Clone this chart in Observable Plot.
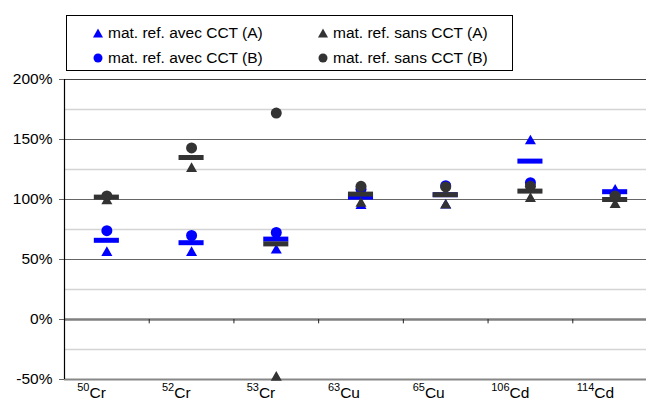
<!DOCTYPE html>
<html>
<head>
<meta charset="utf-8">
<script src="https://cdn.jsdelivr.net/npm/d3@7"></script>
<script src="https://cdn.jsdelivr.net/npm/@observablehq/plot@0.6"></script>
<style>
  html, body { margin: 0; padding: 0; background: #fff; overflow: hidden; }
  body { width: 646px; height: 401px; position: relative; font-family: "Liberation Sans", Arial, sans-serif; }
  #chart { position: absolute; left: 0; top: 0; width: 657px; }
  #chart svg { max-width: none !important; }
  #legend { position: absolute; left: 66px; top: 15px; width: 447px; height: 56px; border: 1px solid #000; background: #fff; box-sizing: border-box; }
  .item { position: absolute; font-size: 15.5px; color: #000; white-space: nowrap; line-height: 18px; }
  .item svg { position: absolute; left: -15px; top: 4px; }
</style>
</head>
<body>
<div id="chart"></div>
<div id="legend"></div>
<script>
// ---- data ----
const isotopes = ["50", "52", "53", "63", "65", "106", "114"];
const elements = ["Cr", "Cr", "Cr", "Cu", "Cu", "Cd", "Cd"];
const avecA = [57, 57, 59, 96, 96.5, 150, 109];      // mat. ref. avec CCT (A)
const sansA = [100, 127, -47, 98, 96.5, 102, 97];    // mat. ref. sans CCT (A)
const avecB = [74, 70, 72.5, 108.5, 111.5, 114, 104]; // mat. ref. avec CCT (B)
const sansB = [103, 143, 172, 111, 110.5, 111, 103];  // mat. ref. sans CCT (B)
const avecMean = [66, 64, 67, 102, 104, 132, 106.5];
const sansMean = [102, 135, 63, 104.5, 104, 107, 100];
const yTicks = [-50, 0, 50, 100, 150, 200];
const majorGrid = [50, 100, 150];
const minorGrid = [-25, 25, 75, 125, 175];
const legendItems = [
  {label: "mat. ref. avec CCT (A)", color: "#0000ff", shape: "triangle"},
  {label: "mat. ref. sans CCT (A)", color: "#333333", shape: "triangle"},
  {label: "mat. ref. avec CCT (B)", color: "#0000ff", shape: "circle"},
  {label: "mat. ref. sans CCT (B)", color: "#333333", shape: "circle"}
];

const BLUE = "#0000ff", DARK = "#333333";
const idx = isotopes.map((_, i) => i);
const labels = idx.map(i => isotopes[i] + elements[i]);
const tri = (arr) => idx.map(i => ({x: i + 0.5, y: arr[i]}));
const halfDash = 0.148;

const plot = Plot.plot({
  width: 657,
  height: 401,
  marginTop: 79,
  marginBottom: 22,
  marginLeft: 64,
  marginRight: 0,
  style: {fontFamily: "'Liberation Sans', Arial, sans-serif", fontSize: "15.5px", background: "transparent", overflow: "visible", maxWidth: "none"},
  x: {type: "linear", domain: [0, 7], axis: null},
  y: {domain: [-50, 200], axis: null},
  marks: [
    Plot.ruleY(minorGrid, {stroke: "#d4d4d4", strokeWidth: 1.5}),
    Plot.ruleY(majorGrid, {stroke: "#666666", strokeWidth: 1.2}),
    Plot.ruleY([200], {stroke: "#444444", strokeWidth: 1.2}),
    Plot.ruleY([-50], {stroke: "#888888", strokeWidth: 2}),
    Plot.ruleY([0], {stroke: "#808080", strokeWidth: 2.5}),
    Plot.ruleX([0], {y1: -50, y2: 200, stroke: "#000", strokeWidth: 1.2}),
    Plot.ruleX([1, 2, 3, 4, 5, 6], {y1: 0, y2: -3.6, stroke: "#222", strokeWidth: 1}),
    Plot.axisY({ticks: yTicks, tickFormat: d => d + "%", tickSize: 5, tickPadding: 7, stroke: "#666", fontSize: "15.5px", label: null}),
    Plot.text(idx, {x: i => i + 0.5, y: -50, text: i => labels[i], textAnchor: "end", lineAnchor: "bottom", dy: 18, dx: -1, fill: "#000"}),
    // blue series
    Plot.dot(tri(avecA), {x: "x", y: "y", symbol: "triangle", r: 4.1, fill: BLUE, stroke: "none", dy: 1.6}),
    Plot.dot(tri(avecB), {x: "x", y: "y", symbol: "circle", r: 5.5, fill: BLUE, stroke: "none"}),
    Plot.ruleY(idx, {y: i => avecMean[i], x1: i => i + 0.5 - halfDash, x2: i => i + 0.5 + halfDash, stroke: BLUE, strokeWidth: 5}),
    // dark series
    Plot.dot(tri(sansA), {x: "x", y: "y", symbol: "triangle", r: 4.1, fill: DARK, stroke: "none", dy: 1.6}),
    Plot.dot(tri(sansB), {x: "x", y: "y", symbol: "circle", r: 5.5, fill: DARK, stroke: "none"}),
    Plot.ruleY(idx, {y: i => sansMean[i], x1: i => i + 0.5 - halfDash, x2: i => i + 0.5 + halfDash, stroke: DARK, strokeWidth: 5})
  ]
});
document.getElementById("chart").appendChild(plot);

// superscript isotope numbers in the x labels
d3.select(plot).selectAll("text").each(function() {
  const k = labels.indexOf(this.textContent);
  if (k < 0) return;
  const t = d3.select(this);
  t.text(null);
  t.append("tspan").attr("font-size", "11px").attr("dy", "-7").text(isotopes[k]);
  t.append("tspan").attr("dy", "7").text(elements[k]);
});

// legend
const legend = document.getElementById("legend");
const pos = [[41, 8], [266, 8], [41, 33], [266, 33]];
legendItems.forEach((it, k) => {
  const div = document.createElement("div");
  div.className = "item";
  div.style.left = pos[k][0] + "px";
  div.style.top = pos[k][1] + "px";
  const shape = it.shape === "triangle"
    ? `<polygon points="5,0.5 10,9.5 0,9.5" fill="${it.color}"/>`
    : `<circle cx="5" cy="5" r="4.5" fill="${it.color}"/>`;
  div.innerHTML = `<svg width="10" height="10" viewBox="0 0 10 10">${shape}</svg>${it.label}`;
  legend.appendChild(div);
});
</script>
</body>
</html>
